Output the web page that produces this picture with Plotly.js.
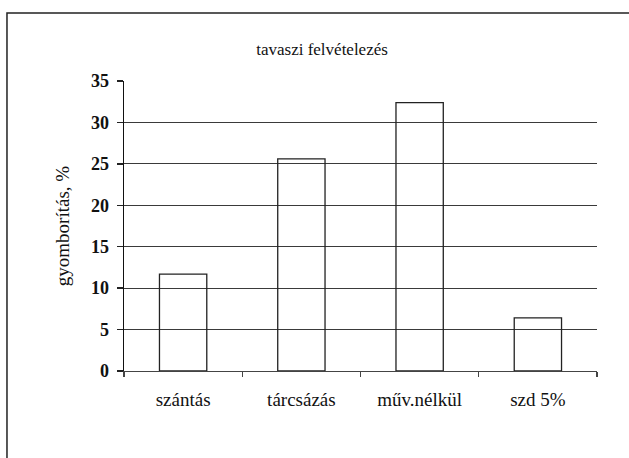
<!DOCTYPE html>
<html>
<head>
<meta charset="utf-8">
<script src="https://cdn.plot.ly/plotly-3.0.1.min.js"></script>
<style>html,body{margin:0;padding:0;background:#fff;}#chart{width:629px;height:458px;}</style>
</head>
<body>
<div id="chart"></div>
<script>
const categories = ["szántás", "tárcsázás", "műv.nélkül", "szd 5%"];
const values = [11.7, 25.6, 32.4, 6.4];
const yTicks = [0, 5, 10, 15, 20, 25, 30, 35];

const font = "'Liberation Serif', 'Times New Roman', serif";

const data = [{
  type: "bar",
  x: categories,
  y: values,
  marker: {color: "rgba(0,0,0,0)", line: {color: "#222", width: 1.3}},
  hoverinfo: "x+y"
}];

const layout = {
  width: 629, height: 458,
  margin: {l: 124, r: 32, t: 81, b: 87},
  paper_bgcolor: "#fff", plot_bgcolor: "rgba(0,0,0,0)",
  bargap: 0.6,
  showlegend: false,
  font: {family: font},
  title: {text: "tavaszi felvételezés", font: {family: font, size: 17, color: "#111"}, x: 0.512, xanchor: "center", y: 0.893, yanchor: "middle"},
  xaxis: {
    type: "category",
    tickson: "boundaries",
    ticks: "outside", ticklen: 5, tickcolor: "#444", tickwidth: 1.3,
    showline: true, linecolor: "#444", linewidth: 1.3,
    showgrid: false, zeroline: false,
    tickfont: {family: font, size: 19, color: "#111"},
    ticklabelstandoff: 11
  },
  yaxis: {
    range: [0, 35],
    tickvals: yTicks,
    ticks: "outside", ticklen: 6, tickcolor: "#222", tickwidth: 1.3,
    showline: true, linecolor: "#111", linewidth: 1.3,
    showgrid: true, gridcolor: "#3a3a3a", gridwidth: 1,
    zeroline: false,
    tickfont: {family: font, size: 18, color: "#111", weight: "bold"},
    ticklabelstandoff: 4,
    title: {text: "gyomborítás, %", font: {family: font, size: 19, color: "#111"}, standoff: 16}
  },
  shapes: [{
    type: "rect", xref: "paper", yref: "paper",
    x0: -0.2474, x1: 1.2, y0: -0.5, y1: 1.2345,
    line: {color: "#222", width: 1.5}, fillcolor: "rgba(0,0,0,0)", layer: "below"
  }]
};

Plotly.newPlot("chart", data, layout, {displayModeBar: false, staticPlot: true});
</script>
</body>
</html>
